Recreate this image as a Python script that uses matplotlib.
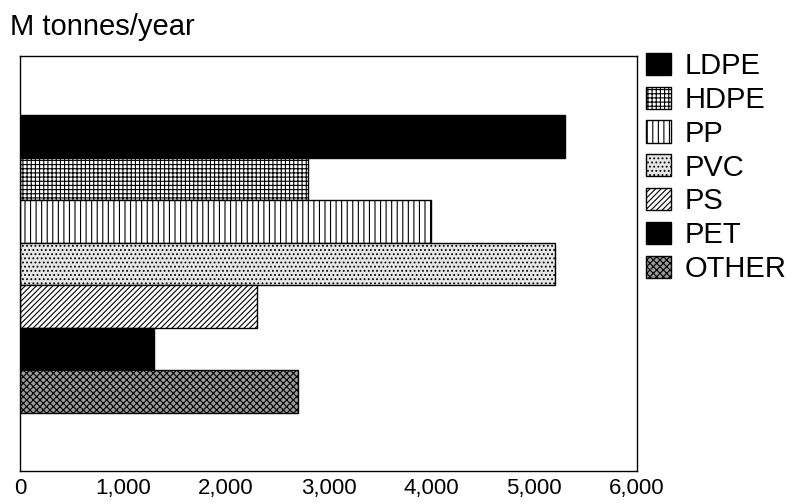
import matplotlib.pyplot as plt

plt.rcParams["font.family"] = ["Liberation Sans", "DejaVu Sans"]
plt.rcParams["hatch.linewidth"] = 0.8

# data
plastics = ["LDPE", "HDPE", "PP", "PVC", "PS", "PET", "OTHER"]
tonnes = [5300, 2800, 4000, 5200, 2300, 1300, 2700]
x_ticks = [0, 1000, 2000, 3000, 4000, 5000, 6000]
x_tick_labels = ["0", "1,000", "2,000", "3,000", "4,000", "5,000", "6,000"]

# fill + hatch for each polymer (black & white print look)
faces = ["black", "white", "white", "#e6e6e6", "white", "black", "#9a9a9a"]
hatches = [None, "++++", "|||", "....", "//////", None, "xxxxx"]

fig = plt.figure(figsize=(7.97, 5.04), dpi=100)
ax = fig.add_axes([20 / 797, 33 / 504, 617 / 797, 415 / 504])

bars = []
for i, (name, val) in enumerate(zip(plastics, tonnes)):
    b = ax.barh(i, val, height=1.0, color=faces[i], hatch=hatches[i],
                edgecolor="black", linewidth=1.0, label=name)
    bars.append(b)

ax.set_xlim(0, 6000)
ax.set_ylim(7.87, -1.89)
ax.set_xticks(x_ticks)
ax.set_xticklabels(x_tick_labels, fontsize=16)
ax.tick_params(axis="x", length=0, pad=5)
ax.set_yticks([])
for side in ax.spines.values():
    side.set_linewidth(1.0)
    side.set_color("black")

fig.text(10 / 797, (504 - 35) / 504, "M tonnes/year", fontsize=21, va="baseline")

fig.legend(handles=bars, loc="upper left", bbox_to_anchor=(646 / 797, (504 - 52) / 504),
           frameon=False, fontsize=21, handlelength=0.86, handleheight=0.79,
           labelspacing=0.2, handletextpad=0.48, borderpad=0, borderaxespad=0)

plt.savefig("out.png", dpi=100)
